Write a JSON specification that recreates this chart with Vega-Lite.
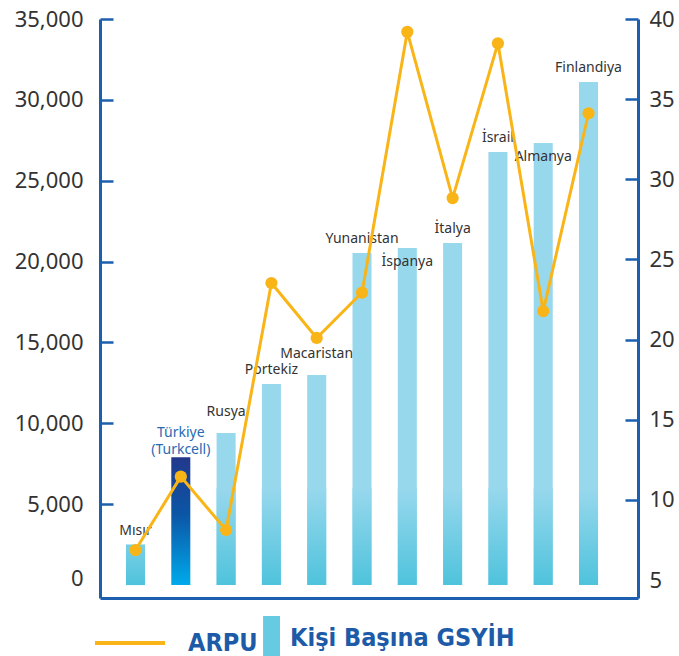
{
  "$schema": "https://vega.github.io/schema/vega-lite/v6.json",
  "width": 538,
  "height": 579,
  "autosize": {"type": "none"},
  "padding": {"left": 100, "top": 19, "right": 41, "bottom": 58},
  "background": "white",
  "config": {"view": {"stroke": null}, "axis": {"grid": false}},
  "data": {
    "values": [
      {"country": "Mısır", "gdp": 2500, "arpu": 6.87},
      {"country": "Türkiye", "gdp": 7900, "arpu": 11.45},
      {"country": "Rusya", "gdp": 9400, "arpu": 8.12},
      {"country": "Portekiz", "gdp": 12430, "arpu": 23.53},
      {"country": "Macaristan", "gdp": 12990, "arpu": 20.1},
      {"country": "Yunanistan", "gdp": 20530, "arpu": 22.93},
      {"country": "İspanya", "gdp": 20840, "arpu": 39.2},
      {"country": "İtalya", "gdp": 21150, "arpu": 28.83},
      {"country": "İsrail", "gdp": 26780, "arpu": 38.48},
      {"country": "Almanya", "gdp": 27330, "arpu": 21.78},
      {"country": "Finlandiya", "gdp": 31100, "arpu": 34.12}
    ]
  },
  "encoding": {
    "x": {
      "field": "country", "type": "nominal", "sort": null,
      "scale": {
        "domain": ["Mısır", "Türkiye", "Rusya", "Portekiz", "Macaristan", "Yunanistan", "İspanya", "İtalya", "İsrail", "Almanya", "Finlandiya"],
        "paddingInner": 0.58, "paddingOuter": 0.728, "align": 0.394
      },
      "axis": {"title": null, "labels": false, "ticks": false, "domainColor": "#1b5fae", "domainWidth": 3}
    }
  },
  "layer": [
    {
      "encoding": {
        "y": {
          "field": "gdp", "type": "quantitative",
          "scale": {"domain": [-800, 35000], "nice": false, "zero": false},
          "axis": {
            "title": null,
            "values": [0, 5000, 10000, 15000, 20000, 25000, 30000, 35000],
            "format": ",d",
            "domainColor": "#1b5fae", "domainWidth": 3,
            "tickColor": "#1b5fae", "tickWidth": 2.5, "tickSize": -13,
            "labelPadding": 30, "labelFont": "Noto Sans", "labelFontSize": 22,
            "labelColor": "#333333", "labelOverlap": false,
            "labelOffset": {"condition": {"test": "datum.value === 0", "value": -7}, "value": 0},
            "tickOpacity": {"condition": {"test": "datum.value === 0", "value": 0}, "value": 1}
          }
        }
      },
      "layer": [
        {
          "transform": [{"filter": "datum.country !== 'Türkiye'"}],
          "mark": {"type": "bar"},
          "encoding": {
            "y2": {"datum": 0},
            "fill": {
              "datum": "Kişi Başına GSYİH",
              "scale": {"range": ["#66cae2"]},
              "condition": {"test": "true", "value": "#98d8ed"},
              "legend": {
                "orient": "none", "legendX": 136, "legendY": 597, "title": null,
                "symbolType": "M0.23,-1H1V1H0.23Z", "symbolSize": 1936,
                "symbolStrokeWidth": 0, "symbolOpacity": 1,
                "labelFont": "Liberation Sans Narrow, DejaVu Sans Condensed, sans-serif",
                "labelFontSize": 25, "labelFontWeight": "bold", "labelColor": "#1d5ba8",
                "labelOffset": 10, "labelLimit": 500
              }
            }
          }
        },
        {
          "transform": [{"filter": "datum.gdp > 6000 && datum.country !== 'Türkiye'"}],
          "mark": {
            "type": "bar",
            "color": {"gradient": "linear", "x1": 0, "y1": 0, "x2": 0, "y2": 1,
              "stops": [{"offset": 0, "color": "#98d8ed"}, {"offset": 1, "color": "#4fc3dc"}]}
          },
          "encoding": {"y": {"datum": 6000, "type": "quantitative"}, "y2": {"datum": 0}}
        },
        {
          "transform": [{"filter": "datum.gdp <= 6000"}],
          "mark": {
            "type": "bar",
            "color": {"gradient": "linear", "x1": 0, "y1": 0, "x2": 0, "y2": 1,
              "stops": [{"offset": 0, "color": "#78cfe5"}, {"offset": 1, "color": "#4fc3dc"}]}
          },
          "encoding": {"y2": {"datum": 0}}
        },
        {
          "transform": [{"filter": "datum.country === 'Türkiye'"}],
          "mark": {
            "type": "bar",
            "color": {"gradient": "linear", "x1": 0, "y1": 0, "x2": 0, "y2": 1,
              "stops": [{"offset": 0, "color": "#22388c"}, {"offset": 0.45, "color": "#0b56a6"}, {"offset": 1, "color": "#00aaeb"}]}
          },
          "encoding": {"y2": {"datum": 0}}
        },
        {
          "transform": [{"filter": {"field": "country", "oneOf": ["Mısır", "Portekiz", "Yunanistan", "İtalya", "İsrail", "Finlandiya"]}}],
          "mark": {"type": "text", "font": "Noto Sans", "fontSize": 14, "color": "#333333", "baseline": "middle", "dy": -14},
          "encoding": {"text": {"field": "country"}}
        },
        {
          "transform": [{"filter": {"field": "country", "oneOf": ["Rusya", "Macaristan"]}}],
          "mark": {"type": "text", "font": "Noto Sans", "fontSize": 14, "color": "#333333", "baseline": "middle", "dy": -21},
          "encoding": {"text": {"field": "country"}}
        },
        {
          "transform": [{"filter": {"field": "country", "oneOf": ["İspanya", "Almanya"]}}],
          "mark": {"type": "text", "font": "Noto Sans", "fontSize": 14, "color": "#333333", "baseline": "middle", "dy": 14},
          "encoding": {"text": {"field": "country"}}
        },
        {
          "transform": [{"filter": "datum.country === 'Türkiye'"}],
          "mark": {"type": "text", "font": "Noto Sans", "fontSize": 14, "color": "#2a6ab3", "baseline": "bottom", "dy": -17, "lineHeight": 17},
          "encoding": {"text": {"value": ["Türkiye", "(Turkcell)"]}}
        }
      ]
    },
    {
      "encoding": {
        "y": {
          "field": "arpu", "type": "quantitative",
          "scale": {"domain": [3.88, 40], "nice": false, "zero": false},
          "axis": {
            "orient": "right", "title": null,
            "values": [5, 10, 15, 20, 25, 30, 35, 40],
            "domainColor": "#1b5fae", "domainWidth": 3,
            "tickColor": "#1b5fae", "tickWidth": 2.5, "tickSize": -13,
            "labelPadding": 24, "labelFont": "Noto Sans", "labelFontSize": 22,
            "labelColor": "#333333", "labelOverlap": false,
            "tickOpacity": {"condition": {"test": "datum.value === 5", "value": 0}, "value": 1}
          }
        }
      },
      "layer": [
        {
          "mark": {"type": "line", "strokeWidth": 3},
          "encoding": {
            "stroke": {
              "datum": "ARPU",
              "scale": {"range": ["#f9b517"]},
              "legend": {
                "orient": "none", "legendX": -7, "legendY": 587, "title": null,
                "symbolType": "stroke", "symbolSize": 4900, "symbolStrokeWidth": 4,
                "labelFont": "Liberation Sans Narrow, DejaVu Sans Condensed, sans-serif",
                "labelFontSize": 25, "labelFontWeight": "bold", "labelColor": "#1d5ba8",
                "labelOffset": 21
              }
            }
          }
        },
        {
          "mark": {"type": "point", "filled": true, "size": 150, "color": "#f9b517", "opacity": 1}
        }
      ]
    }
  ],
  "resolve": {"scale": {"y": "independent"}}
}
